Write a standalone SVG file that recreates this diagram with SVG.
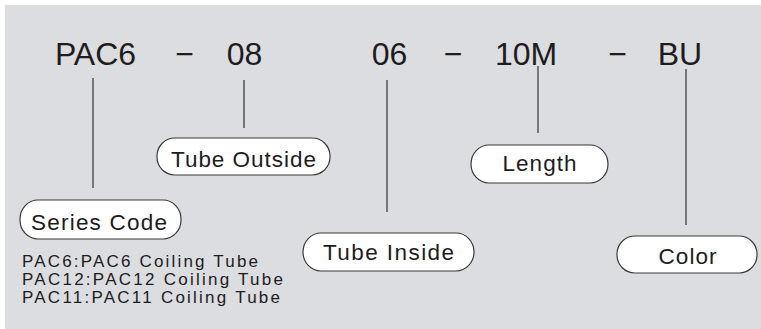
<svg xmlns="http://www.w3.org/2000/svg" width="761" height="329" viewBox="0 0 761 329">
<style>
.code{font-family:"Liberation Sans",Arial,sans-serif;font-size:32px;fill:#1e1c1d;text-anchor:middle}
.lbl{font-family:"Liberation Sans",Arial,sans-serif;font-size:22.5px;fill:#1e1c1d;text-anchor:middle}
.leg{font-family:"Liberation Sans",Arial,sans-serif;font-size:17px;fill:#1e1c1d}
.box{fill:#ffffff;stroke:#3a3a3a;stroke-width:1.2}
.ln{stroke:#333333;stroke-width:1.2;fill:none}
</style>
<rect x="0" y="0" width="761" height="329" fill="#ffffff"/>
<rect x="5" y="5" width="756" height="324" fill="#dcdde0"/>
<g id="code">
<text class="code" x="95.5" y="65">PAC6</text>
<text class="code" x="184.5" y="65">−</text>
<text class="code" x="244.5" y="65">08</text>
<text class="code" x="389.5" y="65">06</text>
<text class="code" x="453" y="65">−</text>
<text class="code" x="526" y="65">10M</text>
<text class="code" x="617.5" y="65">−</text>
<text class="code" x="680" y="65">BU</text>
</g>
<g id="connectors">
<line class="ln" x1="93" y1="78" x2="93" y2="188"/>
<line class="ln" x1="244" y1="80" x2="244" y2="128"/>
<line class="ln" x1="387" y1="80" x2="387" y2="212"/>
<line class="ln" x1="538" y1="66" x2="538" y2="133"/>
<line class="ln" x1="686" y1="69" x2="686" y2="225"/>
</g>
<g id="tube-outside">
<rect class="box" x="157" y="138" width="173" height="37" rx="18" ry="18"/>
<text class="lbl" x="243.5" y="166.5" textLength="145" lengthAdjust="spacing">Tube Outside</text>
</g>
<g id="series-code">
<rect class="box" x="20" y="200" width="161" height="39" rx="18" ry="19"/>
<text class="lbl" x="99" y="230" textLength="136" lengthAdjust="spacing">Series Code</text>
</g>
<g id="tube-inside">
<rect class="box" x="303" y="233" width="171" height="38" rx="18" ry="19"/>
<text class="lbl" x="388.5" y="259.5" textLength="131" lengthAdjust="spacing">Tube Inside</text>
</g>
<g id="length">
<rect class="box" x="471" y="145" width="137" height="38" rx="18" ry="19"/>
<text class="lbl" x="539.5" y="171" textLength="74" lengthAdjust="spacing">Length</text>
</g>
<g id="color">
<rect class="box" x="617" y="236" width="140" height="37" rx="18" ry="18"/>
<text class="lbl" x="687.5" y="263.5" textLength="58" lengthAdjust="spacing">Color</text>
</g>
<g id="legend">
<text class="leg" x="22" y="267" textLength="236" lengthAdjust="spacing">PAC6:PAC6 Coiling Tube</text>
<text class="leg" x="22" y="285" textLength="261" lengthAdjust="spacing">PAC12:PAC12 Coiling Tube</text>
<text class="leg" x="22" y="303" textLength="258" lengthAdjust="spacing">PAC11:PAC11 Coiling Tube</text>
</g>
</svg>
